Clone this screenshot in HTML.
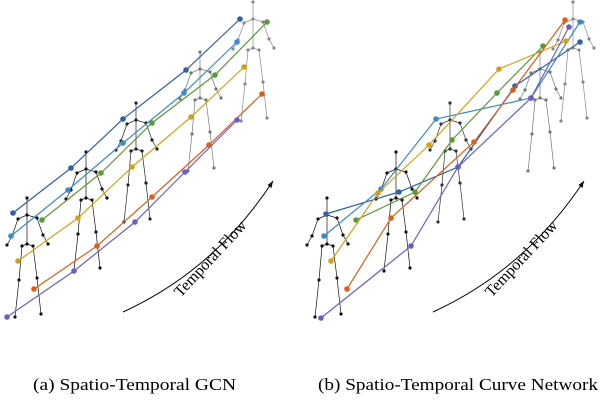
<!DOCTYPE html>
<html><head><meta charset="utf-8"><style>
html,body{margin:0;padding:0;background:#fff}
svg{display:block}
text{font-family:"Liberation Serif",serif}
</style></head><body>
<svg width="600" height="400" viewBox="0 0 600 400">
<g id="skel"></g><g id="lines"></g>
<g>
<path d="M123,312 Q215,270 273,181" fill="none" stroke="#000" stroke-width="1"/>
<path d="M273,181 l-1.5,7 l-4,-3 z" fill="#000"/>
<text x="0" y="0" font-size="16" transform="translate(214,262) rotate(-47)" text-anchor="middle">Temporal Flow</text>
</g>
<g>
<path d="M433,312 Q525,270 584,181" fill="none" stroke="#000" stroke-width="1"/>
<path d="M584,181 l-1.5,7 l-4,-3 z" fill="#000"/>
<text x="0" y="0" font-size="16" transform="translate(525,262) rotate(-47)" text-anchor="middle">Temporal Flow</text>
</g>
<text x="33" y="390" font-size="17" textLength="203" lengthAdjust="spacingAndGlyphs">(a) Spatio-Temporal GCN</text>
<text x="318" y="390" font-size="17" textLength="280" lengthAdjust="spacingAndGlyphs">(b) Spatio-Temporal Curve Network</text>
</svg>
<script>
const seriesNames=["dark-blue","light-blue","green","yellow","orange","purple"];
const seriesColors=["#2f5fa8","#3b8bc9","#5a9a3a","#d4a017","#d95f1a","#6a5fc1"];
const leftX=[[13,71,123,186,240],[11,68,123,184,237],[42,101,152,215,267],[18,78,132,191,244],[34,97,152,209,262],[7,74,135,185,237]];
const leftY=[[213,168,119,70,19],[236,190,143,93,42],[220,173,123,75,22],[261,218,167,117,67],[289,246,197,145,94],[317,271,222,172,120]];
const rightX=[[326,399,458,515,580],[324,381,436,531,580],[356,415,452,497,543],[331,378,429,499,566],[347,391,474,513,565],[321,411,458,531,569]];
const rightY=[[214,192,167,86,42],[236,189,119,98,22],[220,192,140,93,46],[261,193,145,69,41],[289,218,142,90,20],[318,246,167,98,27]];
const skelX=[27,86,136,200,253,327,396,450,540,573];
const skelY=[198,152,103,52,2,198,152,103,52,2];
const skelShade=["#111","#111","#222","#777","#888","#111","#111","#333","#777","#888"];
const NS="http://www.w3.org/2000/svg";
const sk=document.getElementById('skel');
const P=[[0,0],[0,17],[-9,21],[10,20],[-15,38],[-20,47],[16,37],[21,46],[0,46],[-5,48],[6,48],[-8,82],[10,80],[-12,119],[14,116]];
const E=[[0,1],[1,2],[1,3],[2,4],[4,5],[3,6],[6,7],[1,8],[8,9],[8,10],[9,11],[10,12],[11,13],[12,14]];
skelX.forEach((x,i)=>{
 const g=document.createElementNS(NS,'g');
 
 
 const c=skelShade[i];
 E.forEach(e=>{const l=document.createElementNS(NS,'line');
  l.setAttribute('x1',x+P[e[0]][0]);l.setAttribute('y1',skelY[i]+P[e[0]][1]);
  l.setAttribute('x2',x+P[e[1]][0]);l.setAttribute('y2',skelY[i]+P[e[1]][1]);
  l.setAttribute('stroke',c);l.setAttribute('stroke-width','0.7');g.appendChild(l);});
 P.forEach(p=>{const d=document.createElementNS(NS,'circle');
  d.setAttribute('cx',x+p[0]);d.setAttribute('cy',skelY[i]+p[1]);d.setAttribute('r','1.6');d.setAttribute('fill',c);g.appendChild(d);});
 sk.appendChild(g);
});
const ln=document.getElementById('lines');
function drawSeries(X,Y,panel){
 X.forEach((xs,s)=>{
  const g=document.createElementNS(NS,'g');
  
  
  const pl=document.createElementNS(NS,'polyline');
  pl.setAttribute('points',xs.map((x,k)=>x+','+Y[s][k]).join(' '));
  pl.setAttribute('fill','none');pl.setAttribute('stroke',seriesColors[s]);pl.setAttribute('stroke-width','1.2');
  g.appendChild(pl);
  xs.forEach((x,k)=>{const c=document.createElementNS(NS,'circle');
   
   
   c.setAttribute('cx',x);c.setAttribute('cy',Y[s][k]);c.setAttribute('r','2.8');c.setAttribute('fill',seriesColors[s]);g.appendChild(c);});
  ln.appendChild(g);
 });
}
drawSeries(leftX,leftY,'left');
drawSeries(rightX,rightY,'right');
</script>
</body></html>
